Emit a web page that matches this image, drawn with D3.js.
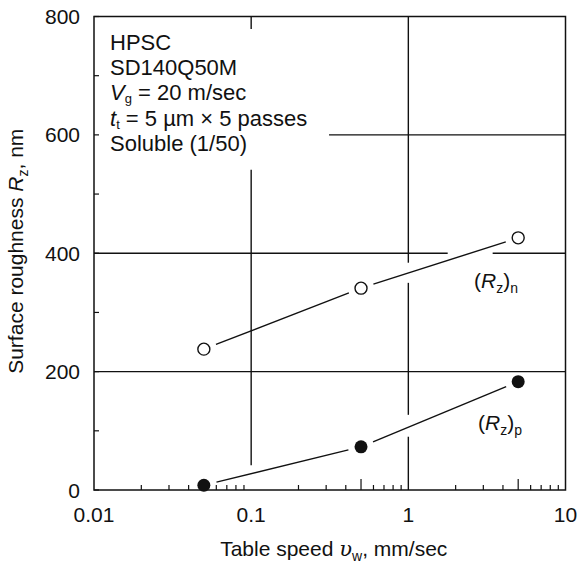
<!DOCTYPE html>
<html>
<head>
<meta charset="utf-8">
<script src="https://cdn.jsdelivr.net/npm/d3@7.9.0/dist/d3.min.js"></script>
<style>
  body { margin: 0; background: #fff; }
  svg { display: block; font-family: "Liberation Sans", Arial, sans-serif; }
</style>
</head>
<body>
<svg id="chart" width="581" height="564"></svg>
<script>
// Data
const speeds = [0.05, 0.5, 5];          // table speed, mm/sec
const rzN = [238, 341, 426];            // (Rz)n, nm  (open circles)
const rzP = [8, 73, 183];               // (Rz)p, nm  (filled circles)
const xTicks = [0.01, 0.1, 1, 10];
const xTickLabels = ["0.01", "0.1", "1", "10"];
const yTicks = [0, 200, 400, 600, 800];
const yMinor = [100, 300, 500, 700];
const notes = ["HPSC", "SD140Q50M", "Vg", "tt", "Soluble (1/50)"];

const svg = d3.select("#chart");
const pLeft = 94, pRight = 565.5, pTop = 16.5, pBottom = 490;

const x = d3.scaleLog().domain([0.01, 10]).range([pLeft, pRight]);
const y = d3.scaleLinear().domain([0, 800]).range([pBottom, pTop]);

const ink = "#111";
const fs = 21, subFs = 14, subDy = 5;

// grid lines, broken where the original leaves room for text and curves
const hGrid = [
  { v: 200, segs: [[0.01, 10]] },
  { v: 400, segs: [[0.01, 1.78], [3.44, 10]] },
  { v: 600, segs: [[0.313, 10]] }
];
const vGrid = [
  { v: 0.1, segs: [[779, 800], [42, 541]] },
  { v: 1, segs: [[384, 800], [127, 350], [0, 90]] }
];
hGrid.forEach(g => g.segs.forEach(s => {
  svg.append("line")
    .attr("x1", x(s[0])).attr("x2", x(s[1]))
    .attr("y1", y(g.v)).attr("y2", y(g.v))
    .attr("stroke", ink).attr("stroke-width", 1.4);
}));
vGrid.forEach(g => g.segs.forEach(s => {
  svg.append("line")
    .attr("x1", x(g.v)).attr("x2", x(g.v))
    .attr("y1", y(s[0])).attr("y2", y(s[1]))
    .attr("stroke", ink).attr("stroke-width", 1.4);
}));

// frame
svg.append("rect")
  .attr("x", pLeft).attr("y", pTop)
  .attr("width", pRight - pLeft).attr("height", pBottom - pTop)
  .attr("fill", "none").attr("stroke", ink).attr("stroke-width", 1.5);

// minor ticks on the bottom axis (inward), longer at the 5s
const minorX = [];
[0.01, 0.1, 1].forEach(d => { for (let k = 2; k <= 9; k++) minorX.push({ v: d * k, k: k }); });
svg.append("g").selectAll("line")
  .data(minorX)
  .join("line")
  .attr("x1", d => x(d.v)).attr("x2", d => x(d.v))
  .attr("y1", pBottom)
  .attr("y2", d => pBottom - (d.k === 5 ? 11 : 5))
  .attr("stroke", ink).attr("stroke-width", 1.2);

// left ticks (inward)
svg.append("g").selectAll("line")
  .data(yTicks.concat(yMinor))
  .join("line")
  .attr("x1", pLeft).attr("x2", pLeft + 5)
  .attr("y1", d => y(d)).attr("y2", d => y(d))
  .attr("stroke", ink).attr("stroke-width", 1.2);

// tick labels
svg.append("g").selectAll("text")
  .data(yTicks)
  .join("text")
  .attr("x", 80).attr("y", d => y(d))
  .attr("dy", "0.36em")
  .attr("text-anchor", "end")
  .attr("font-size", fs)
  .attr("fill", ink)
  .text(d => d);

svg.append("g").selectAll("text")
  .data(xTicks)
  .join("text")
  .attr("x", d => x(d)).attr("y", 522)
  .attr("text-anchor", "middle")
  .attr("font-size", fs)
  .attr("fill", ink)
  .text((d, i) => xTickLabels[i]);

// axis titles
const xt = svg.append("text")
  .attr("x", (pLeft + pRight) / 2 + 4).attr("y", 556)
  .attr("text-anchor", "middle").attr("font-size", fs).attr("fill", ink);
xt.append("tspan").text("Table speed ");
xt.append("tspan").attr("font-style", "italic").attr("font-family", "DejaVu Serif").text("υ");
xt.append("tspan").attr("font-size", subFs).attr("dy", subDy).text("w");
xt.append("tspan").attr("dy", -subDy).text(",  mm/sec");

const yt = svg.append("text")
  .attr("transform", `translate(23,${(pTop + pBottom) / 2 - 2}) rotate(-90)`)
  .attr("text-anchor", "middle").attr("font-size", fs).attr("fill", ink);
yt.append("tspan").text("Surface roughness ");
yt.append("tspan").attr("font-style", "italic").text("R");
yt.append("tspan").attr("font-size", subFs).attr("dy", subDy).text("z");
yt.append("tspan").attr("dy", -subDy).text(",  nm");

// connecting lines, stopping short of the markers
function drawSeries(vals, filled) {
  const pts = speeds.map((s, i) => [x(s), y(vals[i])]);
  const gap = 13;
  for (let i = 0; i < pts.length - 1; i++) {
    const [x0, y0] = pts[i], [x1, y1] = pts[i + 1];
    const len = Math.hypot(x1 - x0, y1 - y0);
    const ux = (x1 - x0) / len, uy = (y1 - y0) / len;
    svg.append("line")
      .attr("x1", x0 + ux * gap).attr("y1", y0 + uy * gap)
      .attr("x2", x1 - ux * gap).attr("y2", y1 - uy * gap)
      .attr("stroke", ink).attr("stroke-width", 1.4);
  }
  svg.append("g").selectAll("circle")
    .data(vals)
    .join("circle")
    .attr("cx", (d, i) => x(speeds[i]))
    .attr("cy", d => y(d))
    .attr("r", filled ? 6.5 : 6)
    .attr("fill", filled ? ink : "#fff")
    .attr("stroke", ink)
    .attr("stroke-width", filled ? 0 : 1.4);
}
drawSeries(rzN, false);
drawSeries(rzP, true);

// curve labels
function curveLabel(px, py, sub) {
  const t = svg.append("text").attr("x", px).attr("y", py)
    .attr("font-size", 21).attr("fill", ink);
  t.append("tspan").text("(");
  t.append("tspan").attr("font-style", "italic").text("R");
  t.append("tspan").attr("font-size", subFs).attr("dy", subDy).text("z");
  t.append("tspan").attr("dy", -subDy).text(")");
  t.append("tspan").attr("font-size", subFs).attr("dy", subDy).text(sub);
}
curveLabel(474, 288, "n");
curveLabel(478, 430, "p");

// condition notes
const nx = 110, ny0 = 50, dyLine = 25.2, noteDy = 3;
notes.forEach((n, i) => {
  const t = svg.append("text").attr("x", nx).attr("y", ny0 + i * dyLine)
    .attr("font-size", 22).attr("fill", ink);
  if (n === "Vg") {
    t.append("tspan").attr("font-style", "italic").text("V");
    t.append("tspan").attr("font-size", 13).attr("dy", noteDy).text("g");
    t.append("tspan").attr("dy", -noteDy).text(" = 20 m/sec");
  } else if (n === "tt") {
    t.append("tspan").attr("font-style", "italic").text("t");
    t.append("tspan").attr("font-size", 13).attr("dy", noteDy).text("t");
    t.append("tspan").attr("dy", -noteDy).text(" = 5 µm × 5 passes");
  } else {
    t.text(n);
  }
});
</script>
</body>
</html>
